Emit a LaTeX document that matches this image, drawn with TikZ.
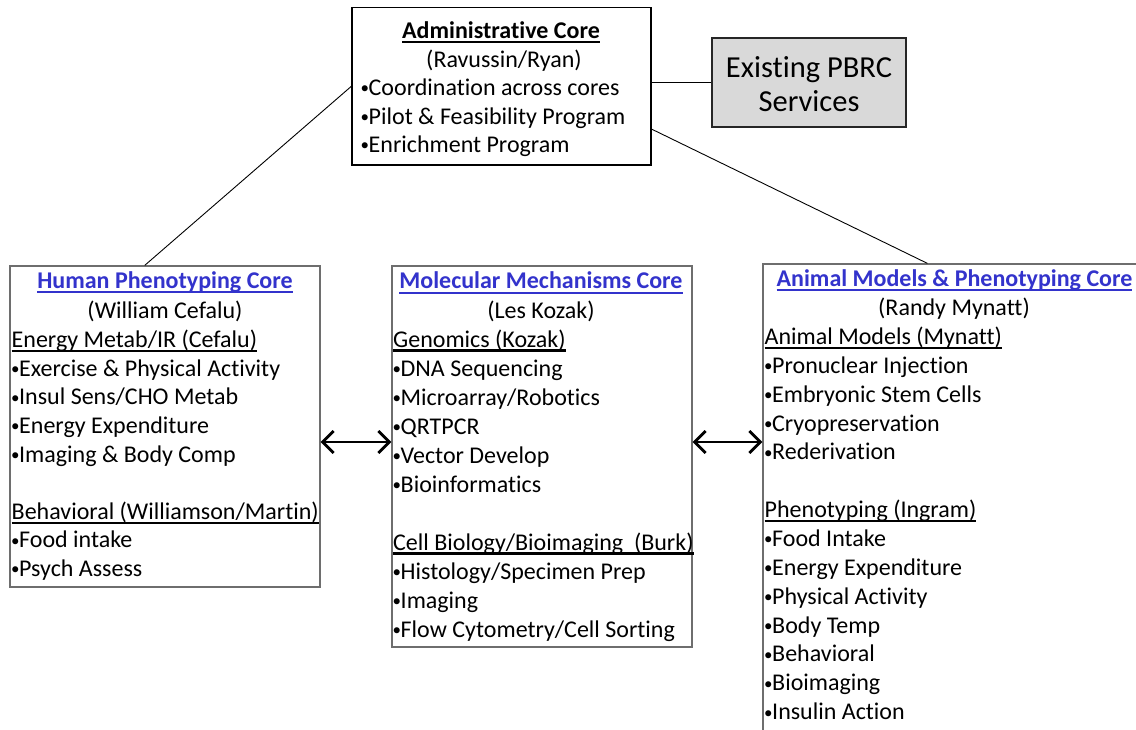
\documentclass[tikz,border=0pt]{standalone}
\usepackage{fontspec}
\setmainfont{Carlito}[Ligatures={NoCommon}]
\usetikzlibrary{calc,arrows.meta}

\definecolor{linkblue}{RGB}{51,51,204}
\definecolor{boxgray}{RGB}{110,110,110}
\definecolor{servfill}{RGB}{217,217,217}

% small bullet with a tight fixed width
\newcommand\bitem{\makebox[7.5pt][l]{\kern-0.6pt\raisebox{1.6pt}{\fontsize{17}{17}\selectfont\textbullet}}}
% underlined headings (rule drawn under the text in the current colour)
\newsavebox\ulinebox
\newcommand\secline[1]{\sbox\ulinebox{#1}\rlap{\rule[-4.6pt]{\wd\ulinebox}{2.2pt}}\usebox\ulinebox}
\newcommand\ttlline[1]{\sbox\ulinebox{\bfseries #1}\rlap{\rule[-5.2pt]{\wd\ulinebox}{2pt}}\usebox\ulinebox}

\begin{document}
\begin{tikzpicture}[x=1pt,y=-1pt,
  corebox/.style={draw=boxgray,line width=1.3pt,rectangle,inner sep=0pt,fill=white},
  adminbox/.style={draw=black,line width=1.2pt,rectangle,inner sep=0pt,fill=white},
  servbox/.style={draw=black!85,line width=1.2pt,rectangle,inner sep=0pt,fill=servfill},
  conn/.style={draw=black,line width=0.9pt},
  biarrow/.style={draw=black,line width=2.8pt,{Straight Barb[length=11pt,width=22pt]}-{Straight Barb[length=11pt,width=22pt]}},
  txt/.style={anchor=base west,inner sep=0pt,font=\fontsize{24}{28}\selectfont},
  ctxt/.style={anchor=base,inner sep=0pt,font=\fontsize{24}{28}\selectfont},
  ttl/.style={anchor=base,inner sep=0pt,font=\fontsize{24}{28}\selectfont,text=linkblue},
  big/.style={anchor=base,inner sep=0pt,font=\fontsize{30.5}{34}\selectfont}]

\useasboundingbox (0,0) rectangle (1136,729);
\clip (0,0) rectangle (1136,729);
\fill[white] (0,0) rectangle (1136,729);

% ---- boxes ----
\node[adminbox,minimum width=299pt,minimum height=157.5pt] (admin) at (501.5,86.25) {};
\node[servbox,minimum width=194pt,minimum height=89pt] (serv) at (809,82.5) {};
\node[corebox,minimum width=310pt,minimum height=321pt] (human) at (165,426.5) {};
\node[corebox,minimum width=300pt,minimum height=381pt] (mol) at (542,456.5) {};
\node[corebox,minimum width=382pt,minimum height=516pt] (animal) at (954,522) {};

% ---- connectors ----
\coordinate (hpin) at ($(human.north west)!0.435!(human.north east)$);
\coordinate (amin) at ($(animal.north west)+(165,0)$);
\coordinate (adout) at ($(admin.north east)!0.77!(admin.south east)$);
\coordinate (arrowrow) at (0,442);
\draw[conn] (admin.east |- serv.west) -- (serv.west);
\draw[conn] (admin.west) -- (hpin);
\draw[conn] (adout) -- (amin);
\draw[biarrow] (human.east |- arrowrow) -- (mol.west |- arrowrow);
\draw[biarrow] (mol.east |- arrowrow) -- (animal.west |- arrowrow);

% ---- administrative core ----
\node[ctxt] (ad0) at (501,38) {\ttlline{Administrative Core}};
\node[ctxt] (ad1) at (504,67) {(Ravussin/Ryan)};
\node[txt] (ad2) at (361,95.5) {\bitem Coordination across cores};
\node[txt] (ad3) at (361,124) {\bitem Pilot \& Feasibility Program};
\node[txt] (ad4) at (361,152.5) {\bitem Enrichment Program};

% ---- existing services ----
\node[big] (sv0) at (809,77) {Existing PBRC};
\node[big] (sv1) at (809,111.5) {Services};

% ---- human phenotyping core ----
\node[ttl] (hu0) at (165,288) {\ttlline{Human Phenotyping Core}};
\node[ctxt] (hu1) at (165,318) {(William Cefalu)};
\node[txt] (hu2) at (11.5,347.5) {\secline{Energy Metab/IR (Cefalu)}};
\node[txt] (hu3) at (11.5,376.2) {\bitem Exercise \& Physical Activity};
\node[txt] (hu4) at (11.5,404.8) {\bitem Insul Sens/CHO Metab};
\node[txt] (hu5) at (11.5,433.4) {\bitem Energy Expenditure};
\node[txt] (hu6) at (11.5,462) {\bitem Imaging \& Body Comp};
\node[txt] (hu7) at (11.5,519.2) {\secline{Behavioral (Williamson/Martin)}};
\node[txt] (hu8) at (11.5,547.8) {\bitem Food intake};
\node[txt] (hu9) at (11.5,576.4) {\bitem Psych Assess};

% ---- molecular mechanisms core ----
\node[ttl] (mo0) at (541,288.5) {\ttlline{Molecular Mechanisms Core}};
\node[ctxt] (mo1) at (541,318) {(Les Kozak)};
\node[txt] (mo2) at (393,347) {\secline{Genomics (Kozak)}};
\node[txt] (mo3) at (393,376) {\bitem DNA Sequencing};
\node[txt] (mo4) at (393,405) {\bitem Microarray/Robotics};
\node[txt] (mo5) at (393,434) {\bitem QRTPCR};
\node[txt] (mo6) at (393,463) {\bitem Vector Develop};
\node[txt] (mo7) at (393,492) {\bitem Bioinformatics};
\node[txt] (mo8) at (393,550) {\secline{Cell Biology/Bioimaging\ \ (Burk)}};
\node[txt] (mo9) at (393,579) {\bitem Histology/Specimen Prep};
\node[txt] (mo10) at (393,608) {\bitem Imaging};
\node[txt] (mo11) at (393,637) {\bitem Flow Cytometry/Cell Sorting};

% ---- animal models & phenotyping core ----
\node[ttl] (an0) at (954.5,286) {\ttlline{Animal Models \& Phenotyping Core}};
\node[ctxt] (an1) at (954,315) {(Randy Mynatt)};
\node[txt] (an2) at (764.5,344.5) {\secline{Animal Models (Mynatt)}};
\node[txt] (an3) at (764.5,373.3) {\bitem Pronuclear Injection};
\node[txt] (an4) at (764.5,402.2) {\bitem Embryonic Stem Cells};
\node[txt] (an5) at (764.5,431) {\bitem Cryopreservation};
\node[txt] (an6) at (764.5,459.9) {\bitem Rederivation};
\node[txt] (an7) at (764.5,517.6) {\secline{Phenotyping (Ingram)}};
\node[txt] (an8) at (764.5,546.5) {\bitem Food Intake};
\node[txt] (an9) at (764.5,575.3) {\bitem Energy Expenditure};
\node[txt] (an10) at (764.5,604.2) {\bitem Physical Activity};
\node[txt] (an11) at (764.5,633) {\bitem Body Temp};
\node[txt] (an12) at (764.5,661.9) {\bitem Behavioral};
\node[txt] (an13) at (764.5,690.7) {\bitem Bioimaging};
\node[txt] (an14) at (764.5,719.6) {\bitem Insulin Action};
\end{tikzpicture}
\end{document}
